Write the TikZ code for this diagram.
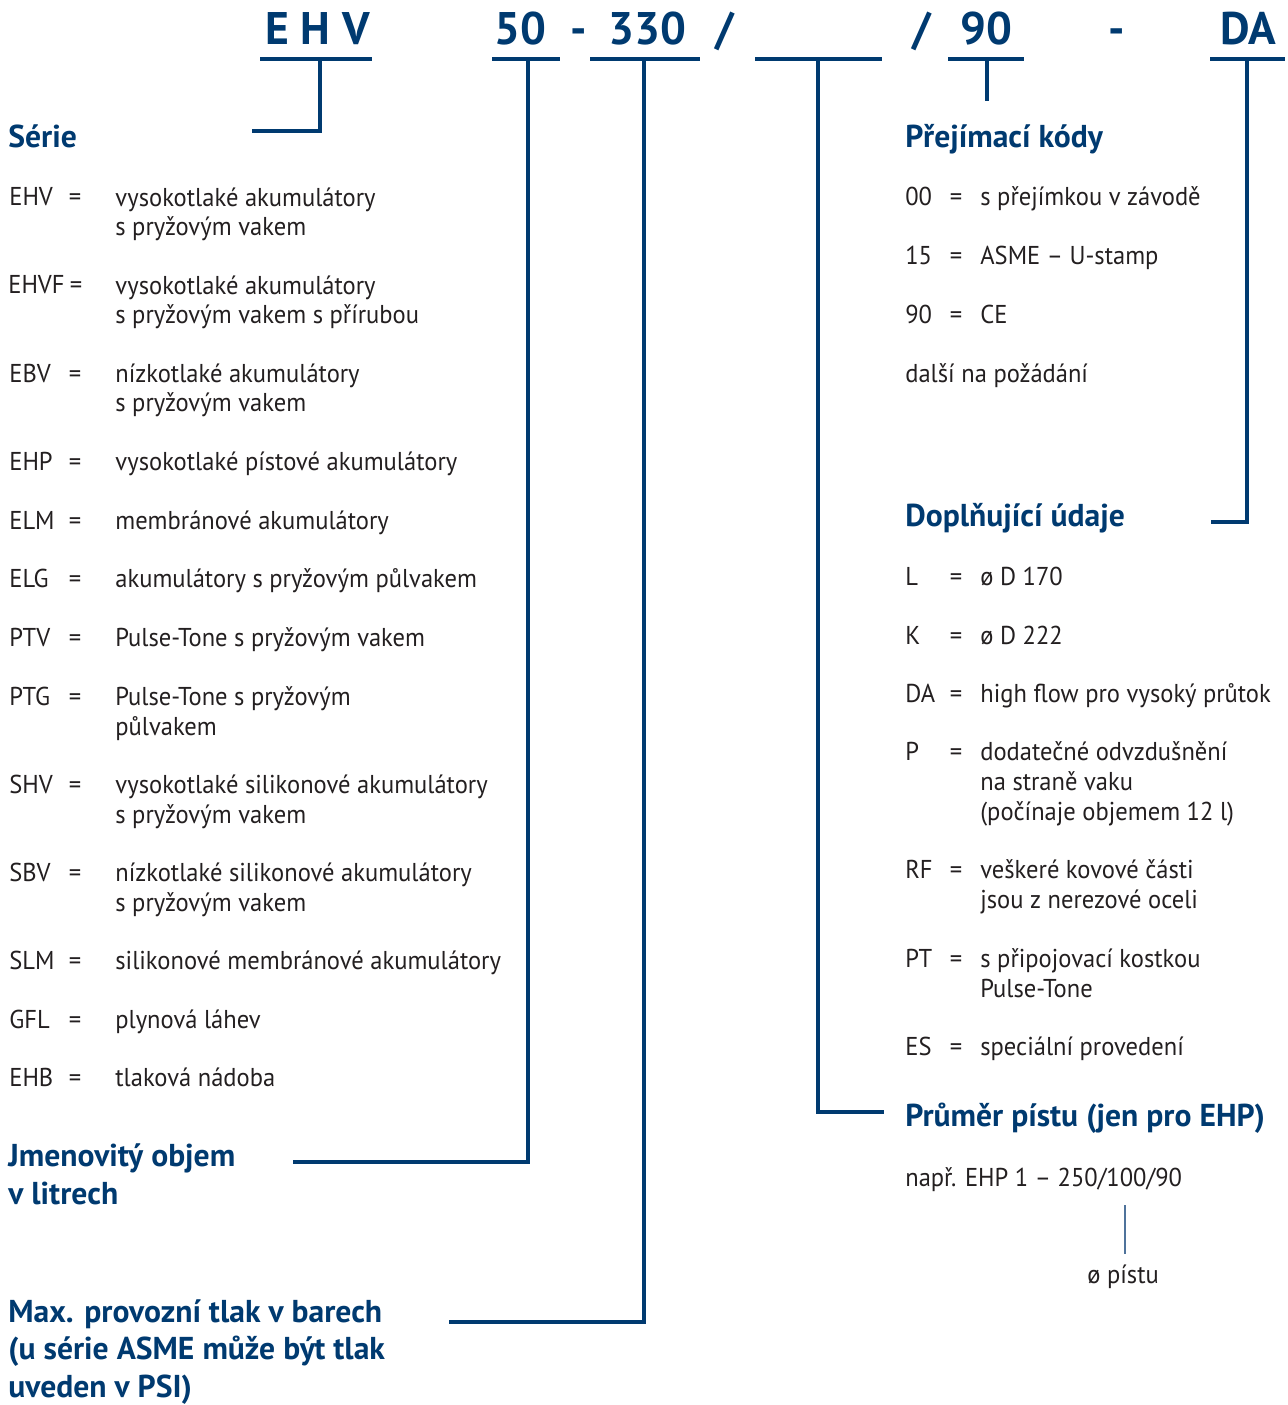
\documentclass[tikz,border=0pt]{standalone}
\usepackage{fontspec}
\setmainfont{PT Sans}[FakeStretch=0.95]
\newfontfamily\headfont{PT Sans}
\usetikzlibrary{positioning}
\definecolor{hydblue}{HTML}{003A70}
\definecolor{hydgray}{HTML}{231F20}
\definecolor{hydthin}{HTML}{4F739B}
\begin{document}
\begin{tikzpicture}[
  x=0.02cm, y=-0.02cm,
  code/.style={anchor=base west, inner sep=0pt, text=hydgray, font=\fontsize{14.7}{17}\selectfont},
  desc/.style={code, align=left},
  eq/.style={anchor=base, inner sep=0pt, text=hydgray, font=\fontsize{14.7}{17}\selectfont},
  head/.style={anchor=base west, inner sep=0pt, align=left, text=hydblue, font=\headfont\bfseries\fontsize{18}{21.3}\selectfont},
  part/.style={anchor=base west, inner sep=0pt, text=hydblue, font=\headfont\bfseries\fontsize{26}{30}\selectfont},
  bar/.style={hydblue, line width=2.6pt},
  link/.style={hydblue, line width=2.3pt},
  thin/.style={hydthin, line width=1.1pt}
]
\useasboundingbox (0,0) rectangle (1287,1405);

% type code
\node[part] (pehv) at (265,45) {E H V};
\node[part] (p50) at (494,45) {50};
\node[part] (pdash1) at (570,45) {-};
\node[part] (p330) at (608,45) {330};
\node[part] (pslash1) at (715,45) {/};
\node[part] (pslash2) at (912,45) {/};
\node[part] (p90) at (960,45) {90};
\node[part] (pdash2) at (1108,45) {-};
\node[part] (pda) at (1220,45) {DA};

\coordinate (ehvL) at (260,59);   \coordinate (ehvR) at (372,59);
\coordinate (volL) at (492,59);   \coordinate (volR) at (560,59);
\coordinate (presL) at (590,59);  \coordinate (presR) at (700,59);
\coordinate (pistL) at (755,59);  \coordinate (pistR) at (882,59);
\coordinate (accL) at (948,59);   \coordinate (accR) at (1024,59);
\coordinate (addL) at (1210,59);  \coordinate (addR) at (1285,59);
\draw[bar] (ehvL) -- (ehvR);
\draw[bar] (volL) -- (volR);
\draw[bar] (presL) -- (presR);
\draw[bar] (pistL) -- (pistR);
\draw[bar] (accL) -- (accR);
\draw[bar] (addL) -- (addR);

\coordinate (ehvtap) at (320,59);   \coordinate (ehvend) at (252,131);
\coordinate (voltap) at (528,59);   \coordinate (volend) at (293,1162);
\coordinate (prestap) at (644,59);  \coordinate (presend) at (449,1322);
\coordinate (pisttap) at (818,59);  \coordinate (pistend) at (884,1112);
\coordinate (acctap) at (987,59);   \coordinate (accend) at (987,101);
\coordinate (addtap) at (1247,59);  \coordinate (addend) at (1211,522);
\draw[link] (ehvtap) |- (ehvend);
\draw[link] (voltap) |- (volend);
\draw[link] (prestap) |- (presend);
\draw[link] (pisttap) |- (pistend);
\draw[link] (acctap) -- (accend);
\draw[link] (addtap) |- (addend);

% series (multi-line texts sit on their last baseline)
\node[head] (serie) at (8,148) {Série};
\node[code] (cEHV) at (9,206) {EHV};   \node[eq] (eEHV) at (75,206) {=};
\node[desc] (dEHV) at (115,236) {vysokotlaké akumulátory\\s pryžovým vakem};
\node[code] (cEHVF) at (8,294) {EHVF}; \node[eq] (eEHVF) at (76,294) {=};
\node[desc] (dEHVF) at (115,324) {vysokotlaké akumulátory\\s pryžovým vakem s přírubou};
\node[code] (cEBV) at (9,382) {EBV};   \node[eq] (eEBV) at (75,382) {=};
\node[desc] (dEBV) at (115,412) {nízkotlaké akumulátory\\s pryžovým vakem};
\node[code] (cEHP) at (9,470) {EHP};   \node[eq] (eEHP) at (75,470) {=};
\node[desc] (dEHP) at (115,470) {vysokotlaké pístové akumulátory};
\node[code] (cELM) at (9,529) {ELM};   \node[eq] (eELM) at (75,529) {=};
\node[desc] (dELM) at (115,529) {membránové akumulátory};
\node[code] (cELG) at (9,587) {ELG};   \node[eq] (eELG) at (75,587) {=};
\node[desc] (dELG) at (115,587) {akumulátory s pryžovým půlvakem};
\node[code] (cPTV) at (9,646) {PTV};   \node[eq] (ePTV) at (75,646) {=};
\node[desc] (dPTV) at (115,646) {Pulse-Tone s pryžovým vakem};
\node[code] (cPTG) at (9,705) {PTG};   \node[eq] (ePTG) at (75,705) {=};
\node[desc] (dPTG) at (115,735) {Pulse-Tone s pryžovým\\půlvakem};
\node[code] (cSHV) at (9,793) {SHV};   \node[eq] (eSHV) at (75,793) {=};
\node[desc] (dSHV) at (115,823) {vysokotlaké silikonové akumulátory\\s pryžovým vakem};
\node[code] (cSBV) at (9,881) {SBV};   \node[eq] (eSBV) at (75,881) {=};
\node[desc] (dSBV) at (115,911) {nízkotlaké silikonové akumulátory\\s pryžovým vakem};
\node[code] (cSLM) at (9,969) {SLM};   \node[eq] (eSLM) at (75,969) {=};
\node[desc] (dSLM) at (115,969) {silikonové membránové akumulátory};
\node[code] (cGFL) at (9,1028) {GFL};  \node[eq] (eGFL) at (75,1028) {=};
\node[desc] (dGFL) at (115,1028) {plynová láhev};
\node[code] (cEHB) at (9,1086) {EHB};  \node[eq] (eEHB) at (75,1086) {=};
\node[desc] (dEHB) at (115,1086) {tlaková nádoba};

\node[head] (volume) at (8,1204) {Jmenovitý objem\\v litrech};
\node[head] (pressure) at (8,1397) {Max. provozní tlak v barech\\(u série ASME může být tlak\\uveden v PSI)};

% acceptance codes
\node[head] (accept) at (905,148) {Přejímací kódy};
\node[code] (c00) at (905,206) {00};   \node[eq] (e00) at (956,206) {=};
\node[desc] (d00) at (980,206) {s přejímkou v závodě};
\node[code] (c15) at (905,265) {15};   \node[eq] (e15) at (956,265) {=};
\node[desc] (d15) at (980,265) {ASME – U-stamp};
\node[code] (c90) at (905,324) {90};   \node[eq] (e90) at (956,324) {=};
\node[desc] (d90) at (980,324) {CE};
\node[code] (dalsi) at (905,382) {další na požádání};

% additional data
\node[head] (extra) at (905,526) {Doplňující údaje};
\node[code] (cL) at (905,585) {L};     \node[eq] (eL) at (956,585) {=};
\node[desc] (dL) at (980,585) {ø D 170};
\node[code] (cK) at (905,644) {K};     \node[eq] (eK) at (956,644) {=};
\node[desc] (dK) at (980,644) {ø D 222};
\node[code] (cDA) at (905,702) {DA};   \node[eq] (eDA) at (956,702) {=};
\node[desc] (dDA) at (980,702) {high flow pro vysoký průtok};
\node[code] (cP) at (905,760) {P};     \node[eq] (eP) at (956,760) {=};
\node[desc] (dP) at (980,820) {dodatečné odvzdušnění\\na straně vaku\\(počínaje objemem 12 l)};
\node[code] (cRF) at (905,878) {RF};   \node[eq] (eRF) at (956,878) {=};
\node[desc] (dRF) at (980,908) {veškeré kovové části\\jsou z nerezové oceli};
\node[code] (cPT) at (905,967) {PT};   \node[eq] (ePT) at (956,967) {=};
\node[desc] (dPT) at (980,997) {s připojovací kostkou\\Pulse-Tone};
\node[code] (cES) at (905,1055) {ES};  \node[eq] (eES) at (956,1055) {=};
\node[desc] (dES) at (980,1055) {speciální provedení};

% piston diameter
\node[head] (piston) at (905,1126) {Průměr pístu (jen pro EHP)};
\node[code] (example) at (905,1186) {např. EHP 1 – 250/100/90};
\node[code] (diam) at (1087,1283) {ø pístu};
\coordinate (diamtop) at (1125,1205);
\coordinate (diambot) at (1125,1254);
\draw[thin] (diamtop) -- (diambot);
\end{tikzpicture}
\end{document}
